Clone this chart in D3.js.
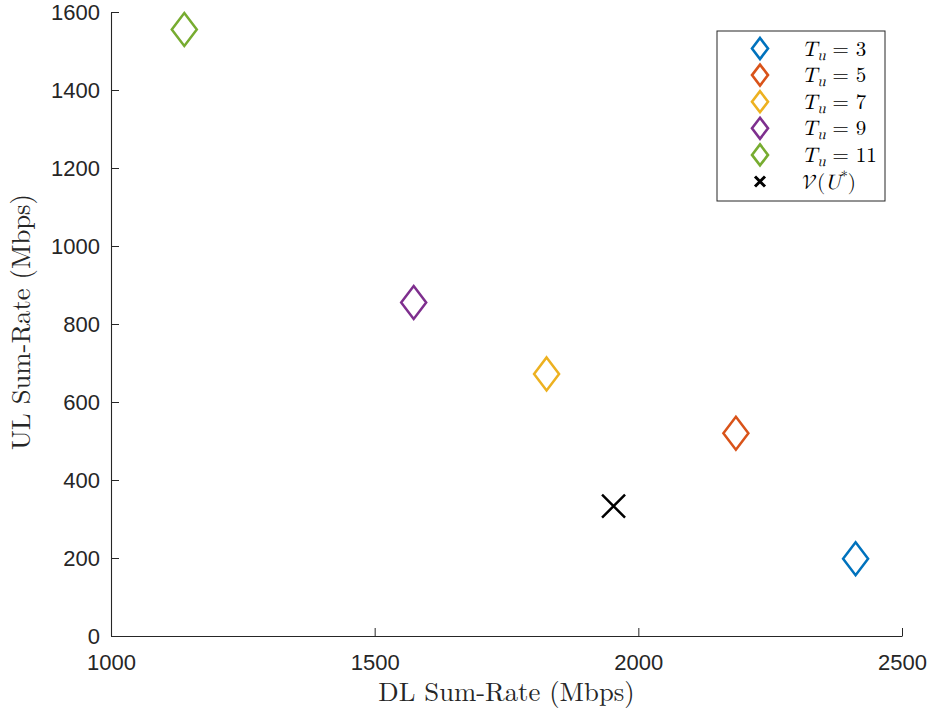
<!DOCTYPE html>
<html>
<head>
<meta charset="utf-8">
<script src="https://cdn.jsdelivr.net/npm/d3@7"></script>
<style>
  body { margin: 0; background: #fff; }
  .tick text { font-family: "Liberation Sans", Arial, sans-serif; font-size: 22px; fill: #262626; }
  .axis path, .axis line { stroke: #262626; }
</style>
</head>
<body>
<figure id="plot" style="margin:0"></figure>
<script>
// values
const seriesNames = ["3", "5", "7", "9", "11"];
const dlRate = [2412, 2185, 1826, 1574, 1139];
const ulRate = [198, 520, 672, 855, 1555];
const colors = ["#0072BD", "#D95319", "#EDB120", "#7E2F8E", "#77AC30"];
const optimum = { dl: 1953, ul: 333 };
const xTicks = [1000, 1500, 2000, 2500];
const yTicks = [0, 200, 400, 600, 800, 1000, 1200, 1400, 1600];

const width = 932, height = 711;
const margin = { left: 111, right: 30, top: 12, bottom: 75 };

const svg = d3.select("figure#plot")
  .append("svg")
  .attr("width", width)
  .attr("height", height);

const x = d3.scaleLinear()
  .domain([1000, 2500])
  .range([margin.left, width - margin.right]);

const y = d3.scaleLinear()
  .domain([0, 1600])
  .range([height - margin.bottom, margin.top]);

// axes, ticks pointing inward like matlab
svg.append("g")
  .attr("class", "axis")
  .attr("transform", "translate(0," + y(0) + ")")
  .call(d3.axisBottom(x).tickValues(xTicks).tickFormat(d3.format("d"))
    .tickSize(-8).tickPadding(18).tickSizeOuter(0))
  .call(g => g.selectAll("text").attr("dy", "0.71em"));

svg.append("g")
  .attr("class", "axis")
  .attr("transform", "translate(" + x(1000) + ",0)")
  .call(d3.axisLeft(y).tickValues(yTicks).tickFormat(d3.format("d"))
    .tickSize(-8).tickPadding(11).tickSizeOuter(0));

svg.selectAll(".axis path").attr("stroke-width", 1.1);

const serif = "'Latin Modern Roman', 'Liberation Serif', serif";

// axis labels
svg.append("text")
  .attr("x", (x(1000) + x(2500)) / 2)
  .attr("y", 701)
  .attr("text-anchor", "middle")
  .style("font-family", serif)
  .style("font-size", "26.7px")
  .attr("fill", "#262626")
  .text("DL Sum-Rate (Mbps)");

svg.append("text")
  .attr("transform", "translate(30,322) rotate(-90)")
  .attr("text-anchor", "middle")
  .style("font-family", serif)
  .style("font-size", "26.7px")
  .attr("fill", "#262626")
  .text("UL Sum-Rate (Mbps)");

// diamond marker path
function diamond(hw, hh) {
  return "M0," + (-hh) + "L" + hw + ",0L0," + hh + "L" + (-hw) + ",0Z";
}
function cross(h) {
  return "M" + (-h) + "," + (-h) + "L" + h + "," + h + "M" + (-h) + "," + h + "L" + h + "," + (-h);
}

svg.selectAll(".pt")
  .data(dlRate)
  .enter()
  .append("path")
  .attr("class", "pt")
  .attr("transform", (d, i) => "translate(" + x(d) + "," + y(ulRate[i]) + ")")
  .attr("d", diamond(12.5, 16.5))
  .attr("fill", "none")
  .attr("stroke", (d, i) => colors[i])
  .attr("stroke-width", 2.5);

svg.append("path")
  .attr("transform", "translate(" + x(optimum.dl) + "," + y(optimum.ul) + ")")
  .attr("d", cross(11.5))
  .attr("fill", "none")
  .attr("stroke", "#000")
  .attr("stroke-width", 2.5);

// legend
const lg = svg.append("g").attr("transform", "translate(717,31)");
lg.append("rect")
  .attr("width", 168)
  .attr("height", 170)
  .attr("fill", "#fff")
  .attr("stroke", "#262626")
  .attr("stroke-width", 1);

const rowY = i => 17.5 + i * 26.6;
const mathFont = "'Latin Modern Math', 'Latin Modern Roman', 'Liberation Serif', serif";

seriesNames.forEach((name, i) => {
  lg.append("path")
    .attr("transform", "translate(43," + rowY(i) + ")")
    .attr("d", diamond(8, 10.5))
    .attr("fill", "none")
    .attr("stroke", colors[i])
    .attr("stroke-width", 2.6);
  const t = lg.append("text")
    .attr("x", 85)
    .attr("y", rowY(i) + 7)
    .style("font-family", mathFont)
    .style("font-size", "21px")
    .attr("fill", "#000");
  t.append("tspan").style("font-style", "italic").text("T");
  t.append("tspan").style("font-style", "italic").style("font-size", "15px").attr("dy", 4).text("u");
  t.append("tspan").attr("dy", -4).text(" = " + name);
});

lg.append("path")
  .attr("transform", "translate(43," + rowY(5) + ")")
  .attr("d", cross(5))
  .attr("fill", "none")
  .attr("stroke", "#000")
  .attr("stroke-width", 3);

const vt = lg.append("text")
  .attr("x", 85)
  .attr("y", rowY(5) + 7)
  .style("font-family", mathFont)
  .style("font-size", "21px")
  .attr("fill", "#000");
vt.append("tspan").text("\u{1D4B1}");
vt.append("tspan").text("(");
vt.append("tspan").style("font-style", "italic").text("U");
vt.append("tspan").style("font-size", "14px").attr("dy", -8).text("*");
vt.append("tspan").attr("dy", 8).text(")");
</script>
</body>
</html>
